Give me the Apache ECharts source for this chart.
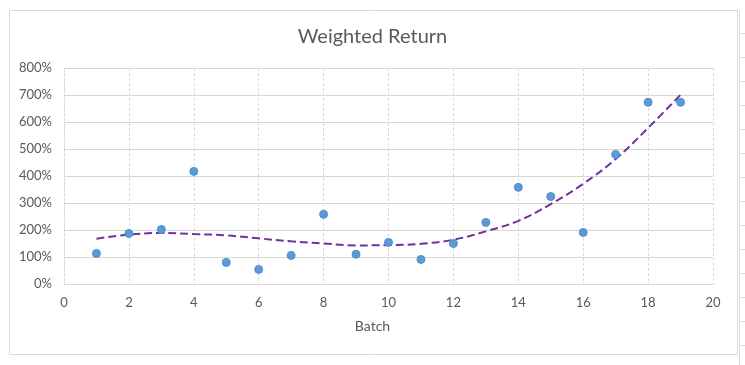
<!DOCTYPE html>
<html>
<head>
<meta charset="utf-8">
<script src="https://cdn.jsdelivr.net/npm/echarts@6/dist/echarts.min.js"></script>
<style>html,body{margin:0;padding:0;background:#fff;}#c{width:745px;height:365px;}</style>
</head>
<body>
<div id="c"></div>
<script>
const batches = [1,2,3,4,5,6,7,8,9,10,11,12,13,14,15,16,17,18,19];
const weightedReturn = [113,187,202,417,80,54,106,258,110,154,91,150,228,358,324,191,480,673,673];
const trendValues = [168,183,189,185,180,169,158,150,143,144,149,164,195,234,296,371,463,578,701];
const yTicks = [0,100,200,300,400,500,600,700,800];
const xTicks = [0,2,4,6,8,10,12,14,16,18,20];

const font = 'Lato';
const txt = '#595959';
const chart = echarts.init(document.getElementById('c'));
const rightTicks = [];
for (const y of [33,57,81,105,129,153,177,201,225,249,273,297,321,345]) {
  rightTicks.push({type:'line', shape:{x1:739, y1:y+0.5, x2:745, y2:y+0.5}, style:{stroke:'#D9D9D9', lineWidth:1}, silent:true});
}
chart.setOption({
  animation:false,
  backgroundColor:'#fff',
  textStyle:{fontFamily:font},
  title:[
    {text:'Weighted Return', left:'center', top:22, textStyle:{fontFamily:font, fontSize:20, fontWeight:'normal', color:txt}},
    {text:'Batch', left:'center', top:314, textStyle:{fontFamily:font, fontSize:14, fontWeight:'normal', color:txt}}
  ],
  graphic:[
    {type:'rect', shape:{x:9.5, y:10.5, width:728, height:344}, style:{fill:null, stroke:'#D9D9D9', lineWidth:1}, silent:true},
    {type:'line', shape:{x1:739.5, y1:10, x2:739.5, y2:365}, style:{stroke:'#D9D9D9', lineWidth:1}, silent:true}
  ].concat(rightTicks),
  grid:{left:64, top:68, right:32, bottom:81, containLabel:false, show:true, borderColor:'#D9D9D9', borderWidth:0},
  xAxis:{
    type:'value', min:xTicks[0], max:xTicks[xTicks.length-1], interval:2,
    axisLine:{show:true, lineStyle:{color:'#D9D9D9', width:1}},
    axisTick:{show:false},
    axisLabel:{color:txt, fontSize:13, margin:12, fontFamily:font},
    splitLine:{show:true, lineStyle:{color:'#DADADA', type:[3,2], width:1}}
  },
  yAxis:{
    type:'value', min:yTicks[0], max:yTicks[yTicks.length-1], interval:100,
    axisLine:{show:true, lineStyle:{color:'#D9D9D9', type:[2,2]}},
    axisTick:{show:false},
    axisLabel:{color:txt, fontSize:13, margin:12, formatter:'{value}%', fontFamily:font},
    splitLine:{show:true, lineStyle:{color:'#D4D9D0', width:1}}
  },
  series:[
    {
      type:'line', name:'Trend', data:batches.map((b,i)=>[b,trendValues[i]]),
      smooth:0.4, showSymbol:false, symbol:'none',
      lineStyle:{color:'#7030A0', width:2, type:[8,4]}, z:2
    },
    {
      type:'scatter', name:'Weighted Return', data:batches.map((b,i)=>[b,weightedReturn[i]]),
      symbol:'circle', symbolSize:8,
      itemStyle:{color:'#5B9BD5', borderColor:'#4F8FCB', borderWidth:1, opacity:1}, z:3
    }
  ]
});
</script>
</body>
</html>
